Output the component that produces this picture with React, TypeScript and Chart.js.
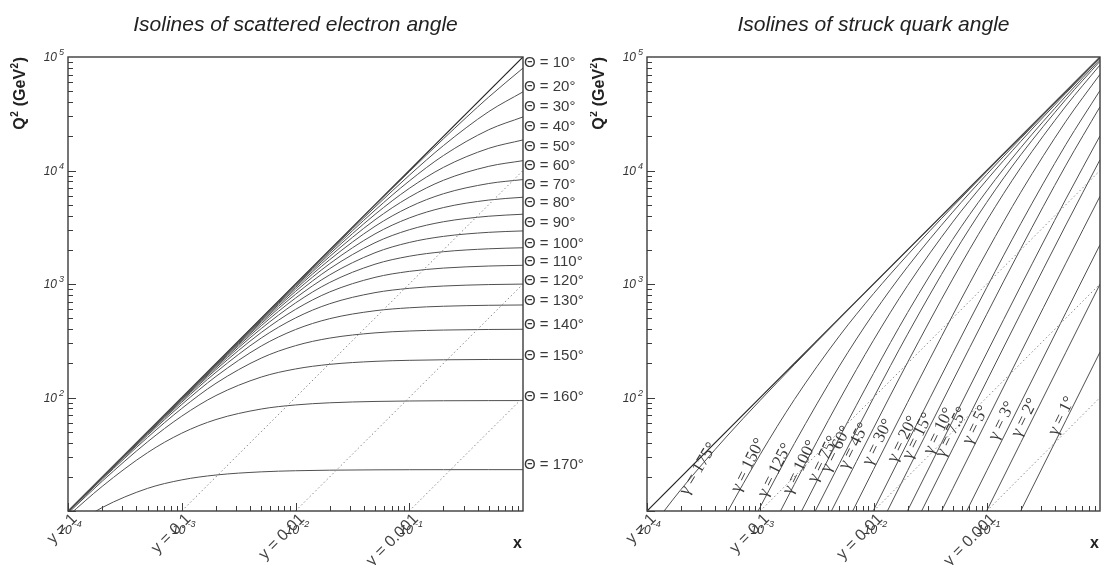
import React, { useEffect, useRef } from 'react';
import { Chart, registerables } from 'chart.js';

Chart.register(...registerables);

// ---------------------------------------------------------------------------
// Data
// ---------------------------------------------------------------------------

// Bjorken-x sampling positions shared by every isoline
const X_GRID = [1e-4, 2e-4, 5e-4, 1e-3, 2e-3, 5e-3, 1e-2, 2e-2, 5e-2, 0.1, 0.2, 0.5, 1];

// Left panel: scattered electron angle isolines (Q^2 at each X_GRID point)
const THETA_DEG = [10, 20, 30, 40, 50, 60, 70, 80, 90, 100, 110, 120, 130, 140, 150, 160, 170];
const THETA_Q2 = [
  [10.0, 20.0, 49.99, 99.97, 199.9, 499.4, 997.5, 1990, 4938, 9753, 19037, 44385, 79806],
  [10.0, 20.0, 49.97, 99.9, 199.6, 497.4, 989.8, 1960, 4756, 9068, 16590, 33027, 49314],
  [10.0, 19.99, 49.94, 99.76, 199.1, 494.1, 976.8, 1909, 4470, 8082, 13562, 22865, 29643],
  [10.0, 19.98, 49.89, 99.56, 198.3, 489.3, 958.0, 1839, 4102, 6955, 10662, 15676, 18590],
  [9.99, 19.97, 49.82, 99.29, 197.2, 482.7, 932.9, 1749, 3678, 5818, 8205, 10884, 12213],
  [9.99, 19.96, 49.73, 98.91, 195.7, 473.9, 900.7, 1639, 3224, 4758, 6243, 7681, 8320],
  [9.98, 19.94, 49.6, 98.4, 193.7, 462.5, 860.5, 1510, 2762, 3816, 4715, 5492, 5811],
  [9.98, 19.91, 49.42, 97.73, 191.1, 447.9, 811.2, 1365, 2311, 3005, 3536, 3956, 4119],
  [9.97, 19.87, 49.19, 96.8, 187.6, 429.1, 751.6, 1204, 1885, 2323, 2628, 2853, 2936],
  [9.95, 19.81, 48.85, 95.52, 182.8, 404.9, 680.5, 1032, 1494, 1756, 1925, 2043, 2086],
  [9.93, 19.73, 48.37, 93.68, 176.2, 373.9, 597.3, 851.6, 1144, 1292, 1381, 1440, 1461],
  [9.9, 19.61, 47.64, 90.98, 166.9, 334.3, 502.1, 670.4, 839.1, 916.0, 959.9, 988.4, 998.2],
  [9.85, 19.41, 46.47, 86.8, 153.4, 284.1, 396.8, 495.0, 581.3, 617.2, 636.9, 649.3, 653.5],
  [9.76, 19.05, 44.45, 80.03, 133.4, 222.4, 286.1, 333.8, 371.0, 385.3, 392.8, 397.5, 399.1],
  [9.56, 18.31, 40.64, 68.47, 104.1, 151.4, 178.4, 195.9, 208.2, 212.6, 214.9, 216.3, 216.7],
  [9.04, 16.49, 32.65, 48.47, 63.97, 79.16, 85.97, 89.83, 92.31, 93.17, 93.61, 93.87, 93.96],
  [6.98, 10.73, 15.82, 18.8, 20.75, 22.13, 22.63, 22.89, 23.04, 23.1, 23.12, 23.14, 23.14],
];
// Q^2 level at which each "Θ = ..." label sits on the right-hand margin
const THETA_LABEL_Q2 = [88500, 54500, 36300, 24200, 16100, 10960, 7450, 5170, 3450, 2250, 1563, 1063, 708, 435, 232, 101, 25.4];

// Right panel: struck quark angle isolines (Q^2 at each X_GRID point)
const GAMMA_DEG = ['175', '150', '125', '100', '75', '60', '45', '30', '20', '15', '10', '7.5', '5', '3', '2', '1'];
const GAMMA_Q2 = [
  [6.343, 15.52, 44.83, 94.55, 194.4, 494.3, 994.3, 1994, 4994, 9994, 19994, 49994, 99994],
  [0.4401, 1.686, 9.356, 31.53, 95.88, 348.6, 821.6, 1804, 4792, 9787, 19785, 49784, 99783],
  [0.1205, 0.4764, 2.875, 10.87, 39.23, 189.4, 549.5, 1419, 4296, 9242, 19213, 49194, 99187],
  [0.04673, 0.186, 1.147, 4.484, 17.17, 95.06, 319.5, 968.5, 3506, 8244, 18075, 47957, 97914],
  [0.01943, 0.07755, 0.4819, 1.909, 7.494, 44.34, 162.9, 560.4, 2466, 6606, 15912, 45341, 95113],
  [0.01101, 0.04398, 0.274, 1.09, 4.313, 26.11, 99.26, 361.2, 1776, 5243, 13757, 42319, 91680],
  [0.005669, 0.02266, 0.1414, 0.564, 2.243, 13.79, 53.67, 203.8, 1105, 3619, 10629, 36965, 85012],
  [0.002373, 0.009489, 0.05927, 0.2368, 0.9449, 5.864, 23.18, 90.64, 530.4, 1918, 6438, 27134, 70357],
  [0.001028, 0.00411, 0.02568, 0.1027, 0.4103, 2.556, 10.17, 40.29, 244.4, 932.0, 3410, 16973, 50686],
  [0.000573, 0.002292, 0.01432, 0.05726, 0.2289, 1.428, 5.697, 22.66, 139.3, 541.9, 2056, 11134, 36426],
  [0.000253, 0.001012, 0.006325, 0.0253, 0.1012, 0.6318, 2.524, 10.07, 62.47, 246.8, 963.4, 5615, 20193],
  [0.000142, 0.000568, 0.00355, 0.0142, 0.05679, 0.3548, 1.418, 5.664, 35.25, 140.0, 552.4, 3315, 12435],
  [0.000063, 0.000252, 0.001575, 0.006301, 0.0252, 0.1575, 0.6298, 2.518, 15.71, 62.62, 248.9, 1527, 5928],
  [0.0000227, 0.0000907, 0.000567, 0.002267, 0.009067, 0.05666, 0.2266, 0.9063, 5.661, 22.62, 90.26, 560.4, 2217],
  [0.0000101, 0.0000403, 0.000252, 0.001007, 0.004029, 0.02518, 0.1007, 0.4028, 2.517, 10.06, 40.21, 250.5, 997.2],
  [0.00000252, 0.0000101, 0.0000629, 0.000252, 0.001007, 0.006294, 0.02518, 0.1007, 0.6293, 2.517, 10.07, 62.86, 251.1],
];
// Lower-left anchor (x, Q^2) of every rotated "γ = ..." label
const GAMMA_LABEL_X = [2.07e-4, 5.96e-4, 1.03e-3, 1.71e-3, 2.84e-3, 3.7e-3, 5.33e-3, 8.67e-3, 1.44e-2, 1.95e-2, 2.99e-2, 3.81e-2, 6.59e-2, 0.112, 0.178, 0.378];
const GAMMA_LABEL_Q2 = [13.0, 13.8, 12.5, 13.3, 16.9, 20.7, 22.1, 23.9, 25.4, 27.0, 29.9, 28.1, 36.6, 39.7, 42.3, 44.0];

// Inelasticity lines y = const: start on the x axis (Q^2 = 10), end at x = 1
const Y_LABELS = ['1', '0.1', '0.01', '0.001'];
const Y_LINE_X_START = [1e-4, 1e-3, 1e-2, 1e-1];
const Y_LINE_Q2_END = [1e5, 1e4, 1e3, 1e2];

// Axis ranges and labelled decades
const X_MIN = 1e-4;
const X_MAX = 1;
const Q2_MIN = 10;
const Q2_MAX = 1e5;
const X_TICKS = [1e-4, 1e-3, 1e-2, 1e-1];
const X_TICK_EXP = ['-4', '-3', '-2', '-1'];
const Q2_TICKS = [1e2, 1e3, 1e4, 1e5];
const Q2_TICK_EXP = ['2', '3', '4', '5'];

// ---------------------------------------------------------------------------

const SANS = '"Liberation Sans", Arial, Helvetica, sans-serif';
const SERIF = '"Liberation Serif", "Times New Roman", serif';
const INK = '#333333';
const AXIS = '#3c3c3c';
const CURVE = '#505050';

function pts(xs: number[], ys: number[]) {
  return xs.map((x, i) => ({ x, y: ys[i] }));
}

function buildDatasets(curves: number[][]) {
  const ds: any[] = [];
  for (let i = 1; i < Y_LABELS.length; i++) {
    ds.push({
      data: [
        { x: Y_LINE_X_START[i], y: Q2_MIN },
        { x: X_MAX, y: Y_LINE_Q2_END[i] },
      ],
      borderColor: '#8a8a8a',
      borderWidth: 1,
      borderDash: [1.5, 2.5],
      showLine: true,
      pointRadius: 0,
    });
  }
  curves.forEach((c) => {
    ds.push({
      data: pts(X_GRID, c),
      borderColor: CURVE,
      borderWidth: 1,
      showLine: true,
      pointRadius: 0,
      cubicInterpolationMode: 'monotone',
    });
  });
  ds.push({
    data: [
      { x: Y_LINE_X_START[0], y: Q2_MIN },
      { x: X_MAX, y: Y_LINE_Q2_END[0] },
    ],
    borderColor: '#222222',
    borderWidth: 1.2,
    showLine: true,
    pointRadius: 0,
  });
  return ds;
}

function decorPlugin(kind: 'theta' | 'gamma', title: string) {
  return {
    id: 'decor_' + kind,
    afterDatasetsDraw(chart: any) {
      const { ctx, chartArea: a } = chart;
      const xs = chart.scales.x;
      const ys = chart.scales.y;
      ctx.save();

      // frame
      ctx.strokeStyle = AXIS;
      ctx.lineWidth = 1.4;
      ctx.strokeRect(a.left, a.top, a.right - a.left, a.bottom - a.top);

      // ticks (inside)
      ctx.lineWidth = 1;
      ctx.beginPath();
      for (let e = -4; e < 0; e++) {
        for (let m = 1; m <= 9; m++) {
          const v = m * Math.pow(10, e);
          const px = Math.round(xs.getPixelForValue(v)) + 0.5;
          const len = m === 1 ? 8 : 5;
          ctx.moveTo(px, a.bottom);
          ctx.lineTo(px, a.bottom - len);
        }
      }
      for (let e = 1; e < 5; e++) {
        for (let m = 1; m <= 9; m++) {
          const v = m * Math.pow(10, e);
          const py = Math.round(ys.getPixelForValue(v)) + 0.5;
          const len = m === 1 ? 8 : 5;
          ctx.moveTo(a.left, py);
          ctx.lineTo(a.left + len, py);
        }
      }
      ctx.stroke();

      // tick labels
      ctx.fillStyle = INK;
      ctx.textBaseline = 'alphabetic';
      const baseFont = 'italic 12px ' + SANS;
      const supFont = 'italic 9px ' + SANS;
      Q2_TICKS.forEach((v, i) => {
        const py = ys.getPixelForValue(v);
        ctx.font = baseFont;
        const bw = ctx.measureText('10').width;
        ctx.font = supFont;
        const sw = ctx.measureText(Q2_TICK_EXP[i]).width;
        const x0 = a.left - 4 - (bw + 2 + sw);
        ctx.font = baseFont;
        ctx.textAlign = 'left';
        ctx.fillText('10', x0, py + 4);
        ctx.font = supFont;
        ctx.fillText(Q2_TICK_EXP[i], x0 + bw + 2, py - 2);
      });
      X_TICKS.forEach((v, i) => {
        const px = xs.getPixelForValue(v);
        ctx.font = baseFont;
        const bw = ctx.measureText('10').width;
        ctx.textAlign = 'center';
        ctx.fillText('10', px - 3, a.bottom + 23);
        ctx.font = supFont;
        ctx.textAlign = 'left';
        ctx.fillText(X_TICK_EXP[i], px - 3 + bw / 2 + 2, a.bottom + 16);
      });

      // y = const labels (rotated, below the axis)
      ctx.font = '16px ' + SANS;
      ctx.fillStyle = '#444444';
      Y_LABELS.forEach((lab, i) => {
        const px = xs.getPixelForValue(Y_LINE_X_START[i]);
        ctx.save();
        ctx.translate(px + 1, a.bottom);
        ctx.rotate(-Math.PI / 4);
        ctx.textAlign = 'right';
        ctx.textBaseline = 'top';
        ctx.fillText('y = ' + lab, 0, 0);
        ctx.restore();
      });

      // title
      ctx.fillStyle = '#222222';
      ctx.font = 'italic 21px ' + SANS;
      ctx.textAlign = 'center';
      ctx.textBaseline = 'alphabetic';
      ctx.fillText(title, (a.left + a.right) / 2, 31);

      // y axis title  Q² (GeV²)
      const parts: [string, boolean][] = [['Q', false], ['2', true], [' (GeV', false], ['2', true], [')', false]];
      const bigF = 'bold 16px ' + SANS;
      const smallF = 'bold 10px ' + SANS;
      let total = 0;
      parts.forEach(([t, sup]) => {
        ctx.font = sup ? smallF : bigF;
        total += ctx.measureText(t).width + (sup ? 1 : 0);
      });
      ctx.save();
      ctx.translate(a.left - 43, a.top + total);
      ctx.rotate(-Math.PI / 2);
      ctx.textAlign = 'left';
      let cx = 0;
      parts.forEach(([t, sup]) => {
        ctx.font = sup ? smallF : bigF;
        ctx.fillText(t, cx + (sup ? 0.5 : 0), sup ? -7 : 0);
        cx += ctx.measureText(t).width + (sup ? 1 : 0);
      });
      ctx.restore();

      // x axis title
      ctx.font = 'bold 16px ' + SANS;
      ctx.textAlign = 'right';
      ctx.fillText('x', a.right - 1, a.bottom + 37);

      // isoline labels
      ctx.fillStyle = '#3a3a3a';
      if (kind === 'theta') {
        ctx.font = '15px ' + SANS;
        ctx.textAlign = 'left';
        ctx.textBaseline = 'middle';
        THETA_DEG.forEach((d, i) => {
          const py = ys.getPixelForValue(THETA_LABEL_Q2[i]);
          ctx.fillText('\u0398 = ' + d + '\u00b0', a.right + 1, py);
        });
      } else {
        ctx.font = '17px ' + SERIF;
        GAMMA_DEG.forEach((d, i) => {
          const px = xs.getPixelForValue(GAMMA_LABEL_X[i]);
          const py = ys.getPixelForValue(GAMMA_LABEL_Q2[i]);
          ctx.save();
          ctx.translate(px + 8, py);
          ctx.rotate(((i === 0 ? -59 : -63.5) * Math.PI) / 180);
          ctx.textAlign = 'left';
          ctx.textBaseline = 'bottom';
          ctx.fillText('\u03b3 = ' + d + '\u00b0', 0, 0);
          ctx.restore();
        });
      }
      ctx.restore();
    },
  };
}

function makeChart(canvas: HTMLCanvasElement, kind: 'theta' | 'gamma', padding: any) {
  const curves = kind === 'theta' ? THETA_Q2 : GAMMA_Q2;
  const title = kind === 'theta' ? 'Isolines of scattered electron angle' : 'Isolines of struck quark angle';
  return new Chart(canvas, {
    type: 'scatter',
    data: { datasets: buildDatasets(curves) },
    options: {
      responsive: false,
      animation: false,
      devicePixelRatio: 1,
      events: [],
      layout: { padding },
      plugins: { legend: { display: false }, tooltip: { enabled: false } },
      elements: { line: { capBezierPoints: false, tension: 0 }, point: { radius: 0 } },
      scales: {
        x: { type: 'logarithmic', min: X_MIN, max: X_MAX, display: false },
        y: { type: 'logarithmic', min: Q2_MIN, max: Q2_MAX, display: false },
      },
    } as any,
    plugins: [decorPlugin(kind, title)],
  });
}

export default function App() {
  const leftRef = useRef<HTMLCanvasElement>(null);
  const rightRef = useRef<HTMLCanvasElement>(null);

  useEffect(() => {
    const c1 = makeChart(leftRef.current!, 'theta', { left: 68, right: 67, top: 57, bottom: 54 });
    const c2 = makeChart(rightRef.current!, 'gamma', { left: 57, right: 1, top: 57, bottom: 54 });
    return () => {
      c1.destroy();
      c2.destroy();
    };
  }, []);

  return (
    <div style={{ position: 'fixed', left: 0, top: 0, width: 1101, height: 565, background: '#ffffff', overflow: 'hidden' }}>
      <canvas ref={leftRef} width={590} height={565} style={{ position: 'absolute', left: 0, top: 0 }} />
      <canvas ref={rightRef} width={511} height={565} style={{ position: 'absolute', left: 590, top: 0 }} />
    </div>
  );
}
